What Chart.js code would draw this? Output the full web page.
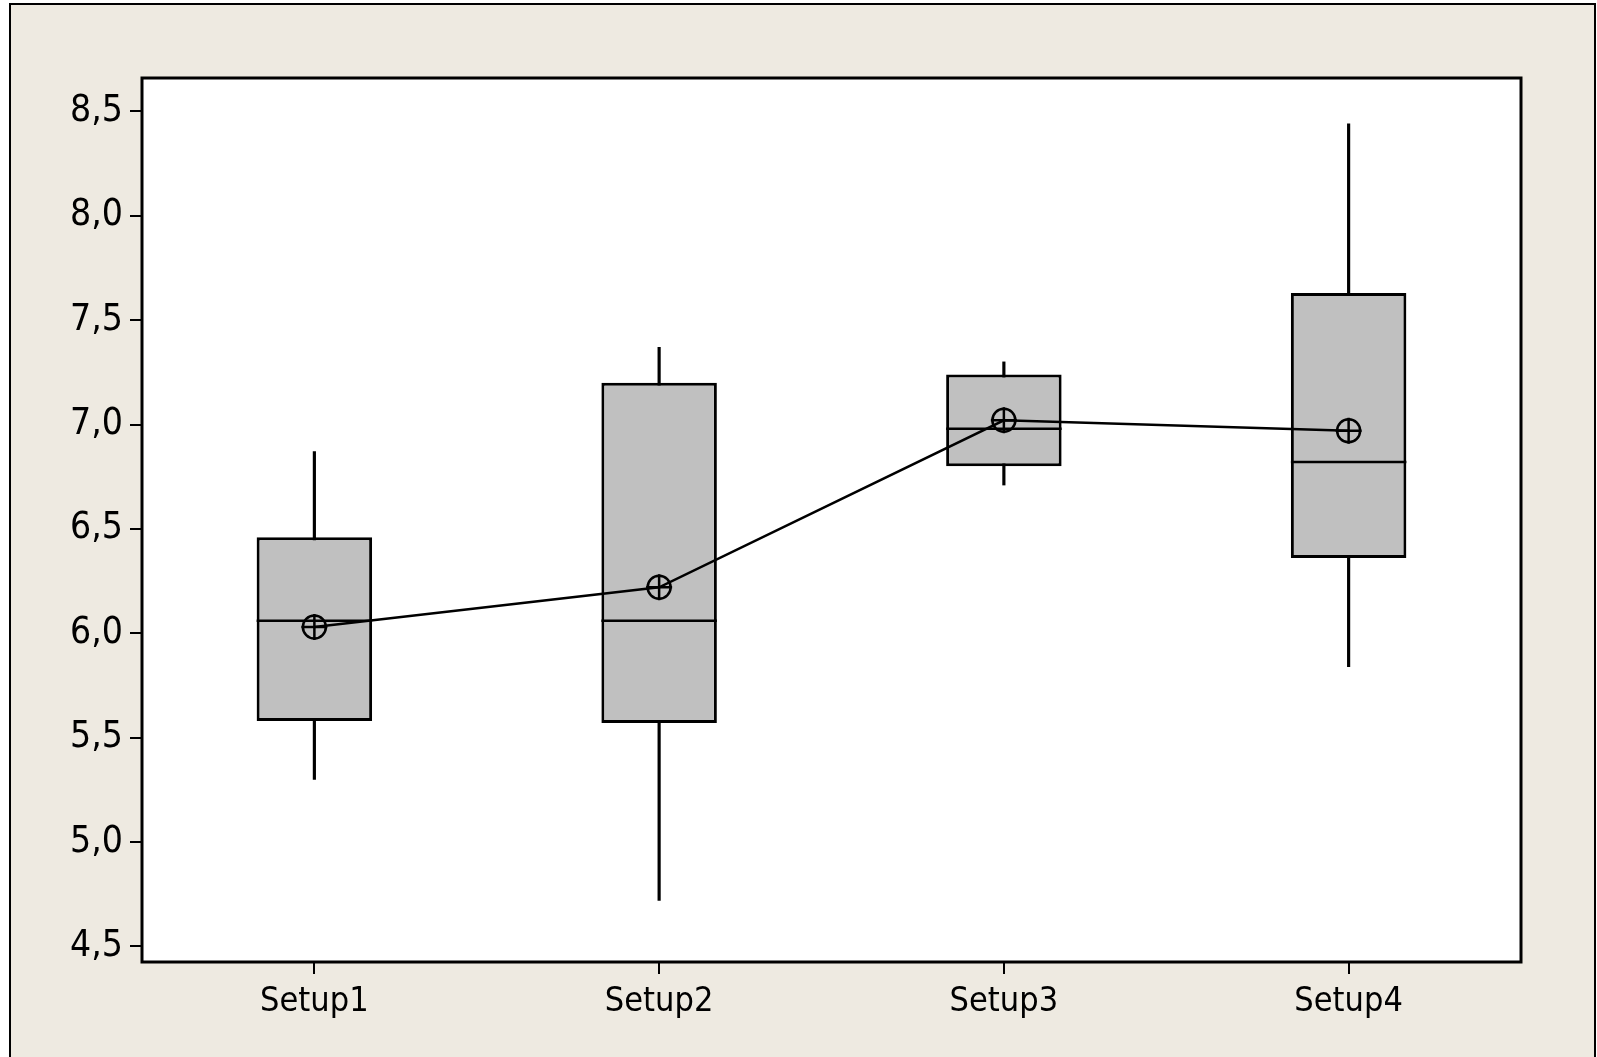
<!DOCTYPE html>
<html>
<head>
<meta charset="utf-8">
<script src="https://cdn.jsdelivr.net/npm/chart.js@4/dist/chart.umd.min.js"></script>
<style>
  html, body { margin: 0; padding: 0; background: #fff; overflow: hidden; }
  #frame {
    position: absolute; left: 9px; top: 3px; width: 1587px; height: 1100px;
    box-sizing: border-box; border: 2px solid #000; background: #eeeae1;
  }
  #chart { position: absolute; left: 0; top: 0; }
</style>
</head>
<body>
<div id="frame"></div>
<canvas id="chart" width="1597" height="1057"></canvas>
<script>
// box plot data
const categories = ['Setup1', 'Setup2', 'Setup3', 'Setup4'];
const whiskerLow = [5.30, 4.72, 6.71, 5.84];
const q1 = [5.58, 5.57, 6.80, 6.36];
const medians = [6.06, 6.06, 6.98, 6.82];
const q3 = [6.46, 7.20, 7.24, 7.63];
const whiskerHigh = [6.87, 7.37, 7.30, 8.44];
const means = [6.03, 6.22, 7.02, 6.97];

const yTicks = [4.5, 5.0, 5.5, 6.0, 6.5, 7.0, 7.5, 8.0, 8.5];
const yMin = 4.425;
const yMax = 8.66;

const FONT = '"DejaVu Sans Condensed", "DejaVu Sans", sans-serif';

// white plot area + black frame round it
const plotFrame = {
  id: 'plotFrame',
  beforeDraw(chart) {
    const { ctx, chartArea: a } = chart;
    ctx.save();
    ctx.fillStyle = '#fff';
    ctx.fillRect(a.left, a.top, a.right - a.left, a.bottom - a.top);
    ctx.restore();
  },
  afterDraw(chart) {
    const { ctx, chartArea: a } = chart;
    ctx.save();
    ctx.strokeStyle = '#000';
    ctx.lineWidth = 3;
    ctx.strokeRect(a.left, a.top, a.right - a.left, a.bottom - a.top);
    ctx.restore();
  },
};

// median line across each box
const medianLines = {
  id: 'medianLines',
  afterDatasetsDraw(chart) {
    const { ctx } = chart;
    const y = chart.scales.y;
    const boxes = chart.getDatasetMeta(1).data;
    ctx.save();
    ctx.strokeStyle = '#000';
    ctx.lineWidth = 2.5;
    boxes.forEach((bar, i) => {
      const py = y.getPixelForValue(medians[i]);
      ctx.beginPath();
      ctx.moveTo(bar.x - bar.width / 2, py);
      ctx.lineTo(bar.x + bar.width / 2, py);
      ctx.stroke();
    });
    ctx.restore();
  },
};

const axisGrid = {
  display: true,
  drawOnChartArea: false,
  drawTicks: true,
  tickLength: 12,
  color: '#000',
  lineWidth: 2,
  offset: false,
};

new Chart(document.getElementById('chart'), {
  type: 'bar',
  data: {
    labels: categories,
    datasets: [
      {
        label: 'Whiskers',
        data: categories.map((_, i) => [whiskerLow[i], whiskerHigh[i]]),
        backgroundColor: '#000',
        barThickness: 2.5,
        grouped: false,
        order: 3,
      },
      {
        label: 'Boxes',
        data: categories.map((_, i) => [q1[i], q3[i]]),
        backgroundColor: '#c0c0c0',
        borderColor: '#000',
        borderWidth: 3,
        borderSkipped: false,
        barPercentage: 0.335,
        categoryPercentage: 1,
        grouped: false,
        order: 2,
      },
      {
        type: 'line',
        label: 'Mean',
        data: means,
        borderColor: '#000',
        borderWidth: 2.5,
        pointStyle: 'circle',
        pointRadius: 11.5,
        pointBorderWidth: 2.5,
        pointBackgroundColor: 'rgba(0,0,0,0)',
        pointBorderColor: '#000',
        order: 1,
      },
      {
        type: 'line',
        label: 'Mean cross',
        data: means,
        showLine: false,
        pointStyle: 'cross',
        pointRadius: 13,
        pointBorderWidth: 2.5,
        pointBorderColor: '#000',
        order: 0,
      },
    ],
  },
  options: {
    responsive: false,
    animation: false,
    events: [],
    layout: { padding: { left: 0, top: 78, right: 76, bottom: 0 } },
    scales: {
      x: {
        offset: true,
        grid: axisGrid,
        border: { display: false },
        ticks: { color: '#000', font: { family: FONT, size: 34 }, padding: 8, maxRotation: 0 },
        afterFit: (s) => { s.height = 95; },
      },
      y: {
        min: yMin,
        max: yMax,
        grid: axisGrid,
        border: { display: false },
        afterBuildTicks: (s) => { s.ticks = yTicks.map(v => ({ value: v })); },
        ticks: {
          color: '#000',
          font: { family: FONT, size: 37 },
          padding: 7,
          callback: (v) => Number(v).toFixed(1).replace('.', ','),
        },
        afterFit: (s) => { s.width = 142; },
      },
    },
    plugins: {
      legend: { display: false },
      tooltip: { enabled: false },
    },
  },
  plugins: [plotFrame, medianLines],
});
</script>
</body>
</html>
